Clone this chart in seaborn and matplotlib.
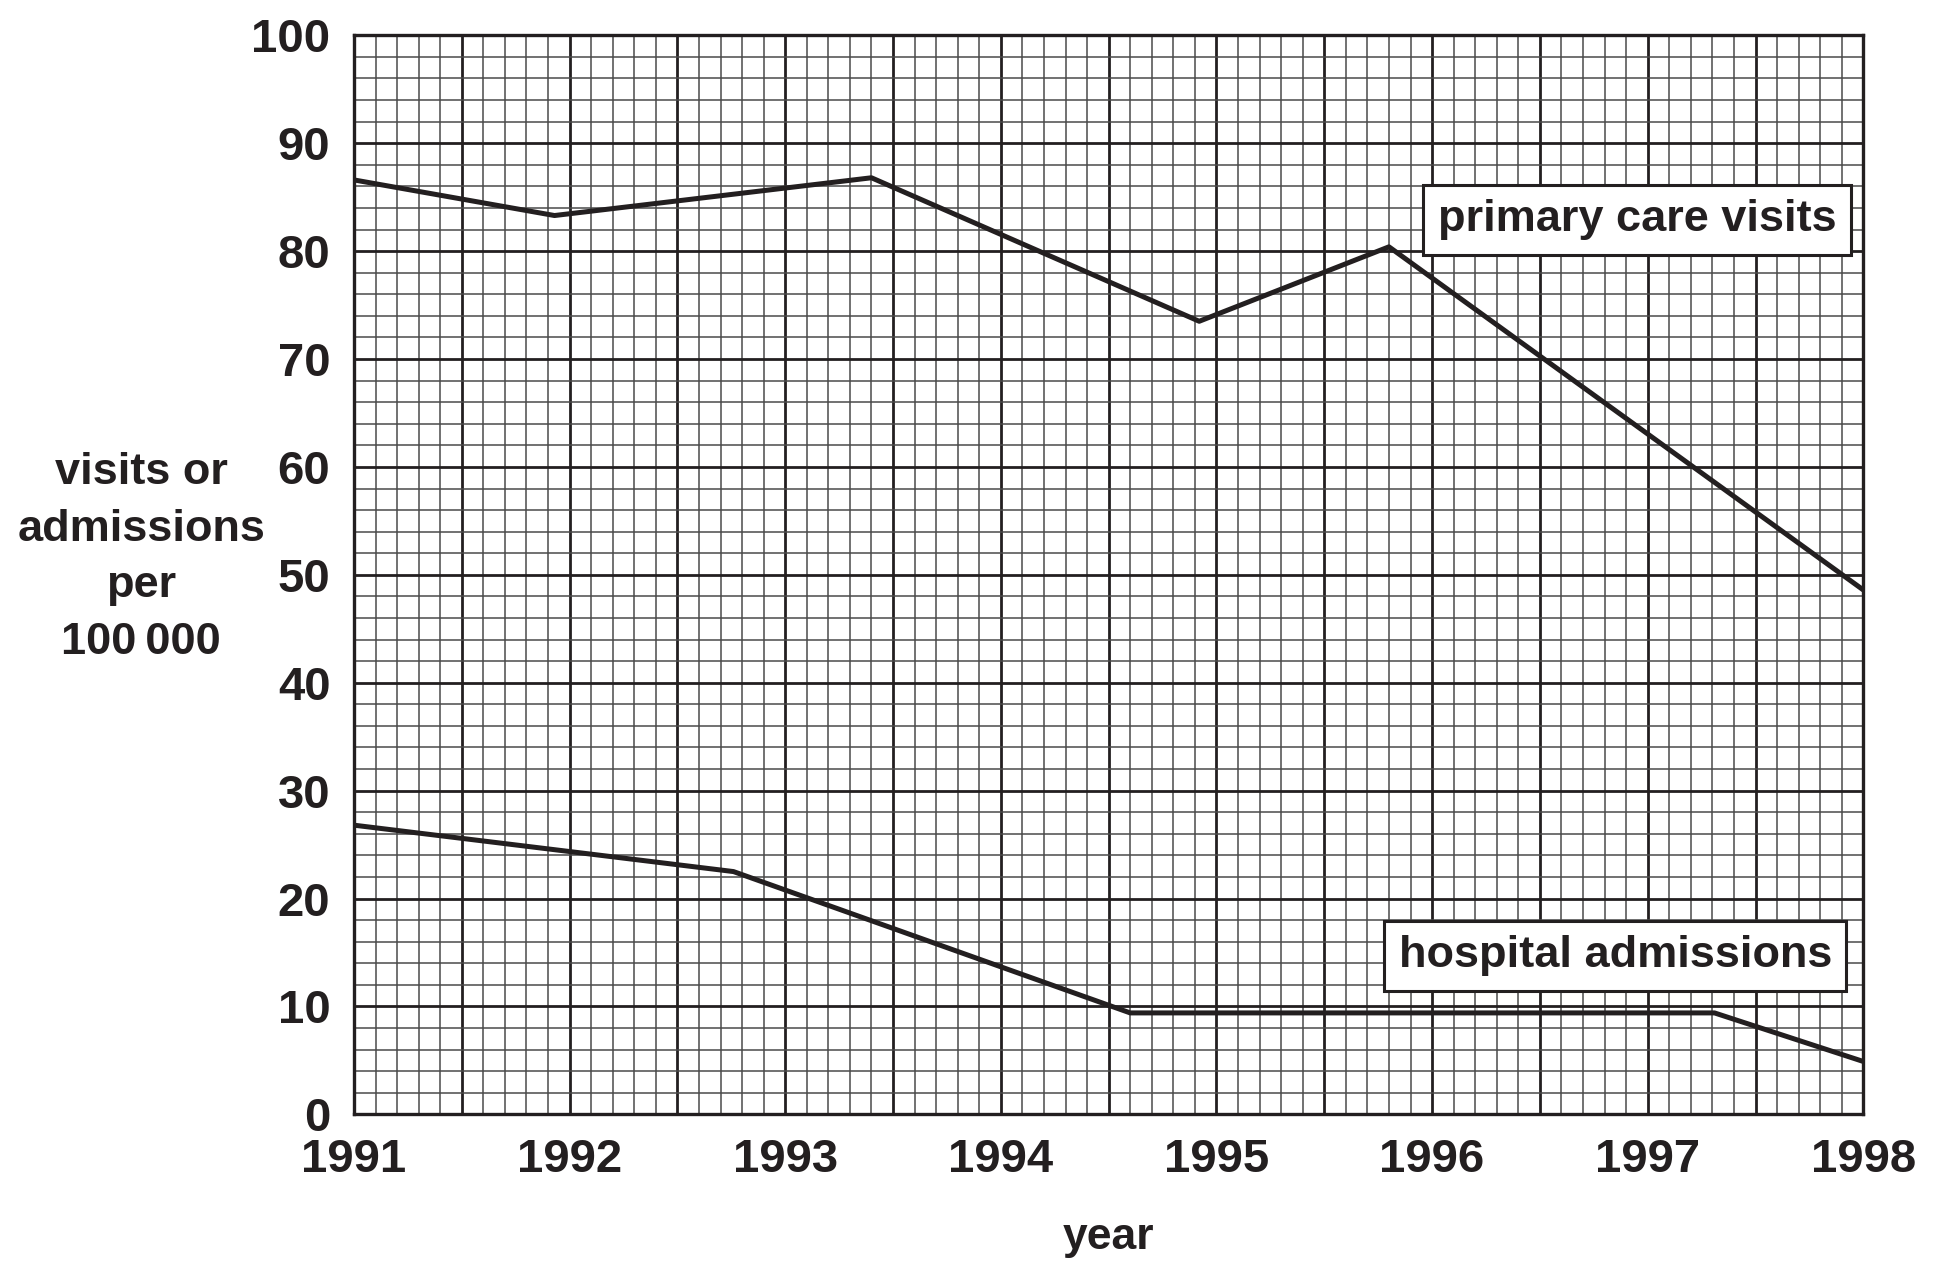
import pandas as pd
import numpy as np
import matplotlib.pyplot as plt
from matplotlib.ticker import MultipleLocator, FuncFormatter
import seaborn as sns

# values
care_years = [1991.0, 1991.93, 1993.4, 1994.92, 1995.8, 1998.0]
care_values = [86.6, 83.3, 86.8, 73.5, 80.4, 48.6]
hosp_years = [1991.0, 1992.76, 1994.6, 1997.31, 1998.0]
hosp_values = [26.8, 22.5, 9.4, 9.4, 4.9]
year_ticks = [1991, 1992, 1993, 1994, 1995, 1996, 1997, 1998]
value_ticks = [0, 10, 20, 30, 40, 50, 60, 70, 80, 90, 100]

df = pd.concat([
    pd.DataFrame({'year': care_years, 'value': care_values, 'series': 'primary care visits'}),
    pd.DataFrame({'year': hosp_years, 'value': hosp_values, 'series': 'hospital admissions'}),
])

sns.set_style('white')
plt.rcParams['font.family'] = ['Liberation Sans', 'DejaVu Sans']
plt.rcParams['font.weight'] = 'bold'

ink = '#231f20'
fig = plt.figure(figsize=(19.45, 12.62), dpi=100)
ax = fig.add_axes([0.182, 0.117, 0.776, 0.855])

sns.lineplot(data=df, x='year', y='value', units='series', estimator=None,
             color=ink, linewidth=3.6, sort=False, ax=ax, zorder=5)

ax.set_xlim(1991, 1998)
ax.set_ylim(0, 100)

# graph paper grid
ax.xaxis.set_major_locator(MultipleLocator(0.5))
ax.xaxis.set_minor_locator(MultipleLocator(0.1))
ax.yaxis.set_major_locator(MultipleLocator(10))
ax.yaxis.set_minor_locator(MultipleLocator(2))
ax.xaxis.set_major_formatter(FuncFormatter(lambda v, p: f'{int(round(v))}' if abs(v - round(v)) < 1e-6 else ''))
ax.grid(which='major', color=ink, linewidth=2.0)
ax.grid(which='minor', color='#4a4a4a', linewidth=1.1)
ax.set_axisbelow(True)

ax.tick_params(axis='both', which='major', labelsize=34, color=ink, width=1.6, length=13, pad=4)
ax.tick_params(axis='both', which='minor', length=0)
for t in ax.xaxis.get_major_ticks():
    if abs(t.get_loc() - round(t.get_loc())) > 1e-6:
        t.tick1line.set_visible(False)
for lab in ax.get_xticklabels() + ax.get_yticklabels():
    lab.set_fontweight('bold')
    lab.set_color(ink)

for s in ax.spines.values():
    s.set_color(ink)
    s.set_linewidth(2.4)

ax.set_xlabel('year', fontsize=32, fontweight='bold', color=ink, labelpad=25)
ax.set_ylabel('visits or\nadmissions\nper\n100\u2009000', fontsize=32.5, fontweight='bold',
              color=ink, rotation=0, ha='center', va='center', linespacing=1.49)
ax.yaxis.set_label_coords(-0.141, 0.516)

box = dict(boxstyle='square,pad=0.32', fc='white', ec=ink, lw=2.2)
ax.text(1996.95, 82.9, 'primary care visits', fontsize=32.5, fontweight='bold', color=ink,
        ha='center', va='center', bbox=box, zorder=6)
ax.text(1996.85, 14.7, 'hospital admissions', fontsize=32.5, fontweight='bold', color=ink,
        ha='center', va='center', bbox=box, zorder=6)

fig.savefig('out.png', dpi=100)
